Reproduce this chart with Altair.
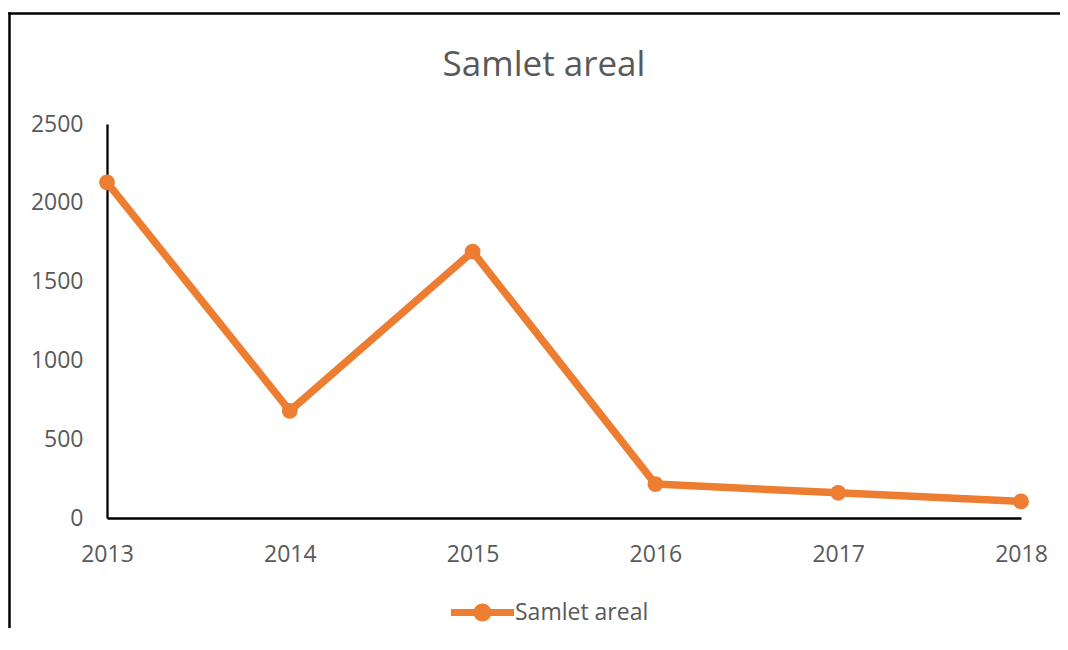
import altair as alt
import pandas as pd

years = [2013, 2014, 2015, 2016, 2017, 2018]
values = [2130, 680, 1690, 215, 160, 105]
series_name = "Samlet areal"
chart_title = "Samlet areal"
y_ticks = [0, 500, 1000, 1500, 2000, 2500]

ORANGE = "#ED7D31"
GREY = "#595959"
FONT = "Open Sans"

df = pd.DataFrame({"year": years, "value": values, "series": [series_name] * len(years)})

x_enc = alt.X("year:Q", scale=alt.Scale(domain=[2013, 2018], nice=False, zero=False),
              axis=alt.Axis(values=years, format="d", title=None, grid=False, ticks=False, tickSize=0,
                            domainColor="black", domainWidth=2.5, labelPadding=25,
                            labelFontSize=23, labelColor=GREY, labelFont=FONT, labelFlush=False))
y_enc = alt.Y("value:Q", scale=alt.Scale(domain=[0, 2500], nice=False),
              axis=alt.Axis(values=y_ticks, format="d", title=None, grid=False, ticks=False, tickSize=0,
                            domainColor="black", domainWidth=2.3, labelPadding=24,
                            labelFontSize=23, labelColor=GREY, labelFont=FONT))

line = alt.Chart(df).mark_line(color=ORANGE, strokeWidth=7.5, strokeCap="round", strokeJoin="round").encode(
    x=x_enc, y=y_enc)

legend_path = ("M-3.5,-0.4L3.5,-0.4L3.5,0.4L-3.5,0.4Z "
               "M1,0A1,1 0 1,1 -1,0A1,1 0 1,1 1,0Z")

points = alt.Chart(df).mark_point(filled=True, shape="circle", size=250, opacity=1).encode(
    x="year:Q", y="value:Q",
    color=alt.Color("series:N", scale=alt.Scale(range=[ORANGE]),
                    legend=alt.Legend(title=None, orient="none", legendX=364, legendY=477,
                                      symbolType=legend_path, symbolSize=324, symbolStrokeWidth=0,
                                      symbolFillColor=ORANGE, symbolOpacity=1,
                                      labelFontSize=23, labelColor=GREY, labelFont=FONT,
                                      labelOffset=21)))

title_df = pd.DataFrame({"t": [chart_title]})
title = alt.Chart(title_df).mark_text(fontSize=35, font=FONT, color=GREY, align="center",
                                      baseline="alphabetic").encode(
    text="t:N", x=alt.value(437), y=alt.value(-48))

border_top = alt.Chart(title_df).mark_rule(stroke="black", strokeWidth=2.5, clip=False).encode(
    x=alt.value(-98.75), x2=alt.value(3000), y=alt.value(-110.5))
border_left = alt.Chart(title_df).mark_rule(stroke="black", strokeWidth=2.5, clip=False).encode(
    x=alt.value(-97.5), y=alt.value(-111.75), y2=alt.value(3000))

chart = alt.layer(border_top, border_left, title, line, points).properties(
    width=914, height=394,
    autosize=alt.AutoSizeParams(type="none"),
    padding={"left": 99, "top": 116, "right": 39, "bottom": 110},
).configure_view(stroke=None)

chart.save("out.html", embed_options={"renderer": "svg", "actions": False})
